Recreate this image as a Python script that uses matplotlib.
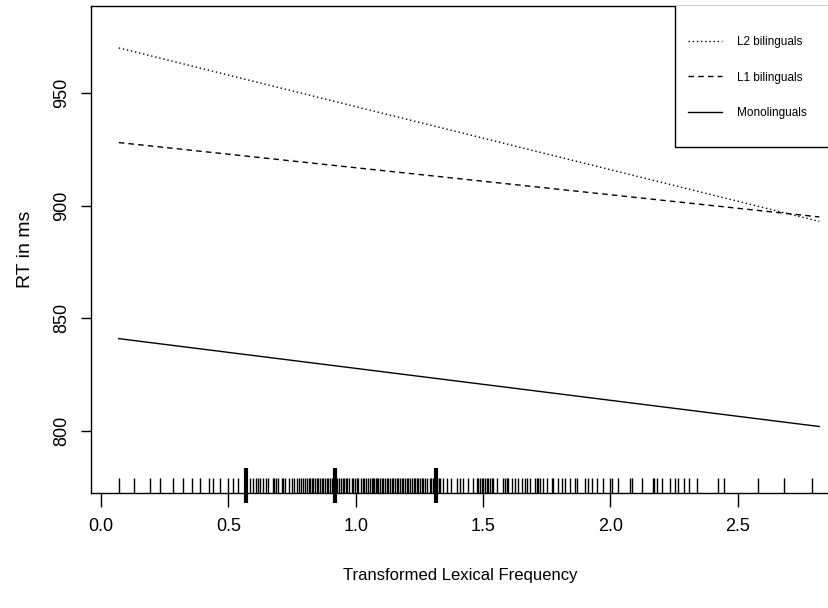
import numpy as np
import matplotlib
matplotlib.use('Agg')
import matplotlib.pyplot as plt
from matplotlib.patches import Rectangle

# line end points (x, RT)
line_x = [0.07, 2.82]
l2_rt = [970, 893]
l1_rt = [928, 895]
mono_rt = [841, 802]

# rug of observed frequencies
rug_x = [0.072, 0.131, 0.192, 0.232, 0.281, 0.321, 0.356, 0.389, 0.425, 0.441,
         0.467, 0.500, 0.520, 0.539, 0.585, 0.598, 0.609, 0.615, 0.624, 0.635,
         0.647, 0.657, 0.674, 0.679, 0.687, 0.696, 0.709, 0.716, 0.722, 0.740,
         0.749, 0.758, 0.771, 0.778, 0.784, 0.795, 0.801, 0.808, 0.816, 0.821,
         0.827, 0.834, 0.840, 0.847, 0.853, 0.860, 0.867, 0.873, 0.880, 0.886,
         0.893, 0.899, 0.906, 0.912, 0.925, 0.936, 0.941, 0.949, 0.954, 0.962,
         0.967, 0.975, 0.984, 0.991, 0.997, 1.004, 1.011, 1.020, 1.028, 1.033,
         1.041, 1.050, 1.057, 1.063, 1.067, 1.072, 1.078, 1.083, 1.089, 1.096,
         1.102, 1.109, 1.115, 1.122, 1.128, 1.135, 1.142, 1.148, 1.155, 1.161,
         1.168, 1.174, 1.181, 1.187, 1.194, 1.200, 1.207, 1.214, 1.220, 1.227,
         1.233, 1.240, 1.246, 1.253, 1.259, 1.266, 1.273, 1.279,
         1.292, 1.297, 1.302, 1.310, 1.320, 1.327, 1.331, 1.344, 1.357, 1.373,
         1.396, 1.410, 1.423, 1.442, 1.459, 1.475, 1.482, 1.488, 1.495, 1.501,
         1.508, 1.514, 1.521, 1.527, 1.534, 1.540, 1.553, 1.580, 1.586, 1.593,
         1.599, 1.612, 1.626, 1.639, 1.652, 1.665, 1.671, 1.684, 1.704, 1.711,
         1.717, 1.724, 1.737, 1.750, 1.770, 1.776, 1.796, 1.809, 1.822, 1.841,
         1.861, 1.868, 1.900, 1.913, 1.927, 1.946, 1.972, 1.999, 2.005, 2.031,
         2.077, 2.084, 2.123, 2.166, 2.171, 2.182, 2.201, 2.232, 2.254, 2.267,
         2.287, 2.310, 2.339, 2.424, 2.444, 2.581, 2.682, 2.790]
rug_thick = [0.568, 0.919, 1.315]

xticks = [0.0, 0.5, 1.0, 1.5, 2.0, 2.5]
yticks = [800, 850, 900, 950]

plt.rcParams['font.family'] = ['Liberation Sans', 'DejaVu Sans']

fig = plt.figure(figsize=(8.29, 6.08), dpi=100)
ax = fig.add_axes([91/829, 115/608, 738/829, 487/608])

ax.plot(line_x, l2_rt, color='black', lw=1.0, linestyle=(0, (1, 2)), label='L2 bilinguals')
ax.plot(line_x, l1_rt, color='black', lw=1.0, linestyle=(0, (4, 3)), label='L1 bilinguals')
ax.plot(line_x, mono_rt, color='black', lw=1.0, linestyle='-', label='Monolinguals')

trans = ax.get_xaxis_transform()
ax.vlines(rug_x, 0, 15/487, color='black', lw=1.0, transform=trans)
ax.vlines(rug_thick, -10/487, 25/487, color='black', lw=3.0, transform=trans, clip_on=False)

ax.set_xlim(-0.039, 2.858)
ax.set_ylim(772.5, 988.6)
ax.set_xticks(xticks)
ax.set_xticklabels(['%.1f' % v for v in xticks], fontsize=13)
ax.set_yticks(yticks)
ax.set_yticklabels([str(v) for v in yticks], fontsize=13, rotation=90, va='center')
ax.tick_params(axis='x', length=10, width=1, pad=8)
ax.tick_params(axis='y', length=7, width=1, pad=8)
for s in ax.spines.values():
    s.set_linewidth(1.0)

ax.set_xlabel('Transformed Lexical Frequency', fontsize=12, labelpad=24)
ax.set_ylabel('RT in ms', fontsize=14, labelpad=14)

# legend box (R style, touching the top right corner)
ax.add_patch(Rectangle((584/738, 346/487), 1.0, 1.0, transform=ax.transAxes,
                       facecolor='white', edgecolor='black', lw=1.0, zorder=4))
leg = ax.legend(loc='upper left', bbox_to_anchor=(597/738, 457/487), frameon=False,
                fontsize=8.5, handlelength=2.88, handletextpad=1.27,
                labelspacing=2.0, borderpad=0, borderaxespad=0)
leg.set_zorder(5)

plt.savefig('out.png', dpi=100)
